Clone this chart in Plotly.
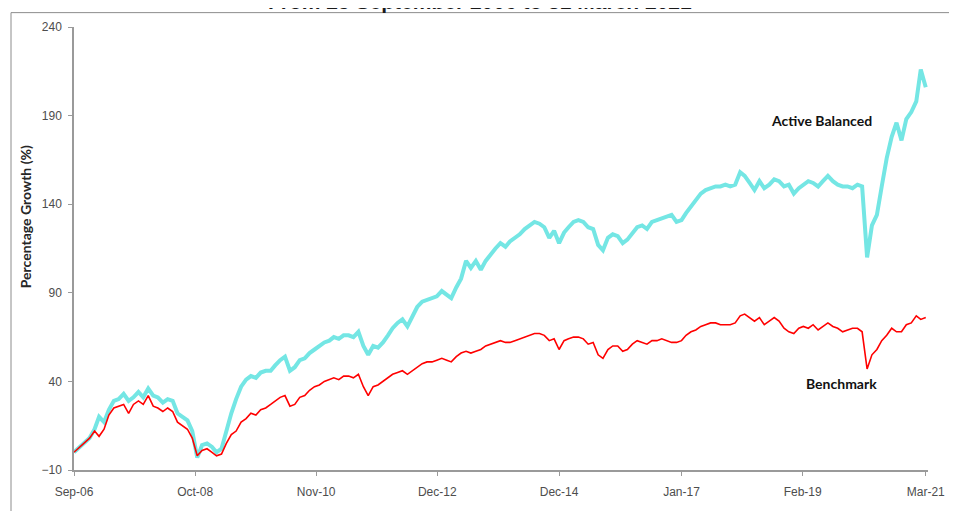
import pandas as pd
import plotly.graph_objects as go

# Monthly observations: first point 25 Sep 2006, then month-ends to 31 Mar 2021
dates = [pd.Timestamp("2006-09-25")] + list(pd.date_range("2006-10-31", "2021-03-31", freq="ME"))

active_balanced = [
    0, 3, 5, 8,                                              # 2006
    13, 20, 17, 24, 29, 30, 33, 29, 31, 34, 31, 36,          # 2007
    32, 31, 28, 30, 29, 22, 20, 18, 12, -3, 4, 5,            # 2008
    3, 0, 2, 12, 22, 30, 37, 41, 43, 42, 45, 46,             # 2009
    46, 49, 52, 54, 46, 48, 52, 53, 56, 58, 60, 62,          # 2010
    63, 65, 64, 66, 66, 65, 68, 60, 55, 60, 59, 62,          # 2011
    66, 70, 73, 75, 71, 77, 82, 85, 86, 87, 88, 91,          # 2012
    89, 87, 93, 98, 108, 104, 108, 103, 108, 112, 115, 118,  # 2013
    116, 119, 121, 123, 126, 128, 130, 129, 127, 121, 125, 118,  # 2014
    124, 127, 130, 131, 130, 127, 126, 117, 114, 121, 123, 122,  # 2015
    118, 120, 124, 127, 128, 126, 130, 131, 132, 133, 134, 130,  # 2016
    131, 135, 139, 142, 146, 148, 149, 150, 150, 151, 150, 151,  # 2017
    158, 156, 152, 148, 153, 149, 151, 154, 153, 150, 151, 146,  # 2018
    149, 151, 153, 152, 150, 153, 156, 153, 151, 150, 150, 149,  # 2019
    151, 150, 110, 128, 134, 150, 166, 178, 186, 176, 188, 192,  # 2020
    198, 216, 206,                                           # 2021
]

benchmark = [
    0, 3, 5, 8,                                              # 2006
    12, 9, 13, 21, 25, 26, 27, 22, 27, 29, 27, 32,           # 2007
    26, 25, 23, 25, 23, 17, 15, 13, 8, -2, 1, 2,             # 2008
    0, -2, -1, 5, 10, 12, 17, 19, 22, 21, 24, 25,            # 2009
    27, 29, 31, 32, 26, 27, 31, 32, 35, 37, 38, 40,          # 2010
    41, 42, 41, 43, 43, 42, 44, 37, 32, 37, 38, 40,          # 2011
    42, 44, 45, 46, 44, 46, 48, 50, 51, 51, 52, 53,          # 2012
    52, 51, 54, 56, 57, 56, 57, 58, 60, 61, 62, 63,          # 2013
    62, 62, 63, 64, 65, 66, 67, 67, 66, 63, 64, 58,          # 2014
    63, 64, 65, 65, 64, 61, 62, 55, 53, 58, 60, 60,          # 2015
    57, 58, 61, 63, 62, 61, 63, 63, 64, 63, 62, 62,          # 2016
    63, 66, 68, 69, 71, 72, 73, 73, 72, 72, 72, 73,          # 2017
    77, 78, 76, 74, 76, 72, 74, 76, 74, 70, 68, 67,          # 2018
    70, 71, 70, 72, 69, 71, 73, 71, 70, 68, 69, 70,          # 2019
    70, 68, 47, 55, 58, 63, 66, 70, 68, 68, 72, 73,          # 2020
    77, 75, 76,                                              # 2021
]

assert len(dates) == len(active_balanced) == len(benchmark)

tick_dates = ["2006-09-25", "2008-10-18", "2010-11-10", "2012-12-03",
              "2014-12-31", "2017-01-31", "2019-02-24", "2021-03-31"]
tick_labels = ["Sep-06", "Oct-08", "Nov-10", "Dec-12", "Dec-14", "Jan-17", "Feb-19", "Mar-21"]
y_ticks = [-10, 40, 90, 140, 190, 240]

fig = go.Figure()
fig.add_trace(go.Scatter(x=dates, y=active_balanced, mode="lines", name="Active Balanced",
                         line=dict(color="#74E6E4", width=4)))
fig.add_trace(go.Scatter(x=dates, y=benchmark, mode="lines", name="Benchmark",
                         line=dict(color="#FF0000", width=1.6)))

axis_col = "#9A9A9A"
tick_font = dict(family="Liberation Sans, Arial, sans-serif", size=12, color="#4D4D4D")
label_font = dict(family="Lato, sans-serif", size=14, color="#111111", weight="bold")

# plot area in page pixels: x 74..928, y 23..470 (page is offset by 8px body margin)
PL, PW, PB, PH = 74, 854, 470, 447


def px_x(x):
    return (x - PL) / PW


def px_y(y):
    return (PB - y) / PH


fig.update_layout(
    width=957, height=511,
    margin=dict(l=66, r=37, t=15, b=49),
    paper_bgcolor="white", plot_bgcolor="white",
    showlegend=False,
    xaxis=dict(type="date", range=["2006-09-25", "2021-04-14"],
               tickvals=tick_dates, ticktext=tick_labels,
               showgrid=False, zeroline=False,
               showline=True, linecolor=axis_col, linewidth=1.5,
               ticks="outside", ticklen=4, tickcolor=axis_col,
               ticklabelstandoff=6, tickfont=tick_font),
    yaxis=dict(range=[-10, 240], tickvals=y_ticks,
               showgrid=False, zeroline=False,
               showline=True, linecolor=axis_col, linewidth=1.5,
               ticks="outside", ticklen=4, tickcolor=axis_col,
               ticklabelstandoff=4, tickfont=tick_font),
    annotations=[
        dict(text="<b>From 25 September 2006 to 31 March 2021</b>", xref="paper", yref="paper",
             x=px_x(480), y=px_y(-2.5), xanchor="center", yanchor="middle", showarrow=False,
             font=dict(family="Liberation Sans, Arial, sans-serif", size=21, color="#1A1A1A")),
        dict(text="<b>Percentage Growth (%)</b>", xref="paper", yref="paper",
             x=px_x(25), y=px_y(215), xanchor="center", yanchor="middle", textangle=-90,
             showarrow=False, font=dict(family="Lato, sans-serif", size=14, color="#262626")),
        dict(text="<b>Active Balanced</b>", xref="paper", yref="paper",
             x=px_x(821), y=px_y(117), xanchor="center", yanchor="middle",
             showarrow=False, font=label_font),
        dict(text="<b>Benchmark</b>", xref="paper", yref="paper",
             x=px_x(841), y=px_y(383), xanchor="center", yanchor="middle",
             showarrow=False, font=label_font),
    ],
    shapes=[
        dict(type="rect", xref="paper", yref="paper",
             x0=px_x(11), x1=px_x(950), y0=px_y(540), y1=px_y(8.5),
             line=dict(color="#8C8C8C", width=1), fillcolor="rgba(0,0,0,0)", layer="below"),
    ],
)

fig.write_html("out.html")
